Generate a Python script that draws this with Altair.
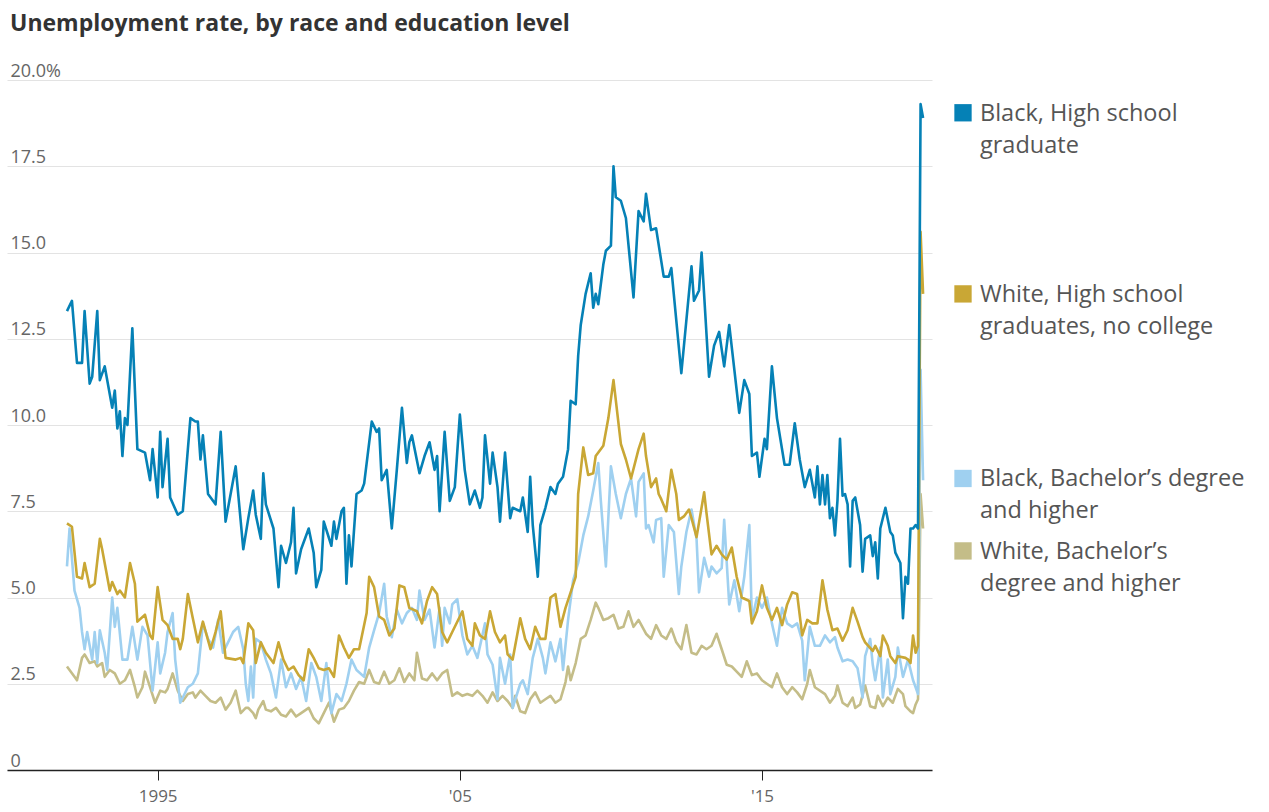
import altair as alt
import pandas as pd

# ---------------- data (% unemployment) ----------------
SERIES = [
    "Black, High school graduate",
    "White, High school graduates, no college",
    "Black, Bachelor’s degree and higher",
    "White, Bachelor’s degree and higher",
]
LEGEND_TEXT = [
    "Black, High school\ngraduate",
    "White, High school\ngraduates, no college",
    "Black, Bachelor’s degree\nand higher",
    "White, Bachelor’s\ndegree and higher",
]
COLORS = ["#0581b6", "#c9a735", "#9fd0f0", "#c4bd88"]

black_hs = [
    ("1992-01", 13.3), ("1992-03", 13.6), ("1992-05", 11.8), ("1992-07", 11.8), ("1992-08", 13.3),
    ("1992-10", 11.2), ("1992-11", 11.4), ("1993-01", 13.3), ("1993-02", 11.3), ("1993-04", 11.7),
    ("1993-07", 10.5), ("1993-08", 11.0), ("1993-09", 9.9), ("1993-10", 10.4), ("1993-11", 9.1),
    ("1993-12", 10.2), ("1994-01", 10.0), ("1994-03", 12.8), ("1994-05", 9.3), ("1994-08", 9.2),
    ("1994-10", 8.4), ("1994-11", 9.3), ("1995-01", 7.9), ("1995-02", 9.8), ("1995-03", 8.2),
    ("1995-05", 9.6), ("1995-06", 7.9), ("1995-09", 7.4), ("1995-11", 7.5), ("1996-02", 10.2),
    ("1996-04", 10.1), ("1996-05", 10.1), ("1996-06", 9.0), ("1996-07", 9.7), ("1996-09", 8.0),
    ("1996-12", 7.7), ("1997-02", 9.8), ("1997-04", 7.2), ("1997-08", 8.8), ("1997-11", 6.4),
    ("1998-01", 7.3), ("1998-03", 8.1), ("1998-04", 7.4), ("1998-06", 6.7), ("1998-07", 8.6),
    ("1998-08", 7.7), ("1998-11", 7.0), ("1999-01", 5.3), ("1999-02", 6.5), ("1999-04", 6.0),
    ("1999-06", 6.6), ("1999-07", 7.6), ("1999-08", 5.7), ("1999-10", 6.4), ("2000-01", 7.0),
    ("2000-03", 6.3), ("2000-04", 5.3), ("2000-06", 5.8), ("2000-07", 7.2), ("2000-10", 6.5),
    ("2000-11", 7.2), ("2000-12", 6.7), ("2001-02", 7.5), ("2001-03", 7.6), ("2001-04", 5.4),
    ("2001-05", 6.8), ("2001-06", 5.9), ("2001-08", 8.0), ("2001-10", 8.1), ("2001-11", 8.3),
    ("2002-02", 10.1), ("2002-04", 9.8), ("2002-05", 9.9), ("2002-06", 8.4), ("2002-08", 8.7),
    ("2002-10", 7.0), ("2002-12", 8.7), ("2003-02", 10.5), ("2003-04", 8.9), ("2003-05", 9.5),
    ("2003-06", 9.7), ("2003-09", 8.6), ("2003-11", 9.1), ("2004-01", 9.5), ("2004-03", 8.7),
    ("2004-04", 9.1), ("2004-05", 7.5), ("2004-07", 9.8), ("2004-09", 7.8), ("2004-11", 8.2),
    ("2005-01", 10.3), ("2005-03", 8.7), ("2005-05", 7.7), ("2005-07", 8.1), ("2005-09", 7.6),
    ("2005-10", 7.9), ("2005-11", 9.7), ("2006-01", 8.3), ("2006-02", 9.2), ("2006-04", 8.2),
    ("2006-05", 7.2), ("2006-07", 9.2), ("2006-09", 7.3), ("2006-10", 7.6), ("2007-01", 7.5),
    ("2007-02", 7.9), ("2007-04", 6.9), ("2007-05", 8.5), ("2007-06", 7.1), ("2007-08", 5.6),
    ("2007-09", 7.1), ("2007-11", 7.6), ("2008-01", 8.2), ("2008-03", 8.0), ("2008-04", 8.3),
    ("2008-06", 8.5), ("2008-08", 9.3), ("2008-09", 10.7), ("2008-11", 10.6), ("2008-12", 12.0),
    ("2009-01", 12.9), ("2009-03", 13.8), ("2009-05", 14.4), ("2009-06", 13.4), ("2009-07", 13.8),
    ("2009-08", 13.5), ("2009-10", 14.65), ("2009-11", 15.05), ("2010-01", 15.2), ("2010-02", 17.5),
    ("2010-03", 16.6), ("2010-05", 16.5), ("2010-07", 16.0), ("2010-10", 13.7), ("2010-12", 16.2),
    ("2011-02", 15.9), ("2011-03", 16.7), ("2011-05", 15.65), ("2011-07", 15.7), ("2011-10", 14.3),
    ("2011-12", 14.3), ("2012-01", 14.55), ("2012-05", 11.5), ("2012-09", 14.6), ("2012-10", 13.6),
    ("2012-12", 13.9), ("2013-01", 15.0), ("2013-04", 11.4), ("2013-06", 12.3), ("2013-08", 12.7),
    ("2013-10", 11.7), ("2013-12", 12.9), ("2014-02", 11.6), ("2014-04", 10.35), ("2014-06", 11.3),
    ("2014-08", 10.9), ("2014-09", 9.1), ("2014-11", 9.2), ("2014-12", 8.5), ("2015-02", 9.6),
    ("2015-03", 9.3), ("2015-05", 11.7), ("2015-07", 10.2), ("2015-10", 8.85), ("2015-12", 8.85),
    ("2016-02", 10.05), ("2016-04", 9.0), ("2016-06", 8.2), ("2016-08", 8.7), ("2016-10", 7.9),
    ("2016-11", 8.8), ("2016-12", 7.7), ("2017-01", 8.55), ("2017-02", 7.7), ("2017-03", 8.55),
    ("2017-04", 7.3), ("2017-05", 7.6), ("2017-06", 6.8), ("2017-07", 7.8), ("2017-08", 9.6),
    ("2017-09", 7.95), ("2017-10", 8.0), ("2017-11", 7.7), ("2017-12", 5.9), ("2018-01", 7.8),
    ("2018-02", 7.9), ("2018-04", 7.1), ("2018-05", 5.75), ("2018-06", 6.7), ("2018-08", 6.8),
    ("2018-09", 6.2), ("2018-10", 6.6), ("2018-11", 5.55), ("2018-12", 7.0), ("2019-02", 7.6),
    ("2019-04", 6.9), ("2019-05", 6.8), ("2019-06", 6.3), ("2019-08", 6.0), ("2019-09", 4.4),
    ("2019-10", 5.6), ("2019-11", 5.4), ("2019-12", 7.0), ("2020-01", 7.0), ("2020-02", 7.1),
    ("2020-03", 7.0), ("2020-04", 19.3), ("2020-05", 18.9),
]

white_hs = [
    ("1992-01", 7.15), ("1992-03", 7.05), ("1992-05", 5.6), ("1992-07", 5.55), ("1992-08", 6.0),
    ("1992-10", 5.3), ("1992-12", 5.4), ("1993-02", 6.7), ("1993-03", 6.4), ("1993-06", 5.2),
    ("1993-07", 5.45), ("1993-09", 5.1), ("1993-10", 5.2), ("1993-12", 5.0), ("1994-02", 6.0),
    ("1994-04", 5.4), ("1994-05", 4.3), ("1994-08", 4.5), ("1994-10", 3.9), ("1994-11", 3.8),
    ("1995-01", 5.3), ("1995-03", 4.35), ("1995-05", 4.2), ("1995-07", 3.8), ("1995-09", 3.8),
    ("1995-10", 3.5), ("1995-11", 3.8), ("1996-01", 5.1), ("1996-03", 4.4), ("1996-05", 3.7),
    ("1996-07", 4.3), ("1996-10", 3.5), ("1996-12", 4.0), ("1997-02", 4.6), ("1997-04", 3.25),
    ("1997-08", 3.2), ("1997-10", 3.25), ("1997-11", 3.1), ("1998-01", 4.25), ("1998-03", 4.05),
    ("1998-04", 3.1), ("1998-06", 3.7), ("1998-08", 3.4), ("1998-10", 3.2), ("1998-11", 3.1),
    ("1999-01", 3.7), ("1999-03", 3.2), ("1999-05", 2.9), ("1999-07", 3.0), ("1999-09", 2.75),
    ("1999-11", 2.6), ("2000-01", 3.5), ("2000-03", 3.25), ("2000-05", 2.95), ("2000-07", 2.9),
    ("2000-09", 2.95), ("2000-11", 2.7), ("2001-01", 3.9), ("2001-03", 3.55), ("2001-05", 3.25),
    ("2001-07", 3.5), ("2001-09", 3.5), ("2001-11", 4.2), ("2001-12", 4.55), ("2002-01", 5.6),
    ("2002-03", 5.3), ("2002-05", 4.45), ("2002-07", 4.35), ("2002-09", 3.9), ("2002-11", 4.1),
    ("2003-01", 5.35), ("2003-03", 5.3), ("2003-05", 4.7), ("2003-08", 4.6), ("2003-10", 4.25),
    ("2003-12", 4.9), ("2004-02", 5.3), ("2004-04", 5.1), ("2004-06", 4.0), ("2004-08", 3.7),
    ("2004-10", 4.0), ("2005-02", 4.6), ("2005-04", 3.8), ("2005-06", 3.6), ("2005-07", 4.25),
    ("2005-09", 3.9), ("2005-11", 3.8), ("2006-01", 4.6), ("2006-03", 4.0), ("2006-05", 3.7),
    ("2006-07", 3.9), ("2006-08", 3.35), ("2006-10", 3.2), ("2007-01", 4.4), ("2007-03", 3.8),
    ("2007-05", 3.5), ("2007-07", 4.15), ("2007-09", 3.8), ("2007-11", 3.8), ("2008-01", 5.0),
    ("2008-03", 5.1), ("2008-05", 4.15), ("2008-07", 4.7), ("2008-09", 5.15), ("2008-11", 5.6),
    ("2008-12", 8.0), ("2009-02", 9.35), ("2009-04", 8.55), ("2009-06", 8.6), ("2009-07", 9.1),
    ("2009-10", 9.4), ("2009-12", 10.2), ("2010-02", 11.3), ("2010-05", 9.45), ("2010-07", 9.0),
    ("2010-09", 8.45), ("2010-12", 9.3), ("2011-02", 9.75), ("2011-03", 9.1), ("2011-05", 8.2),
    ("2011-07", 8.45), ("2011-08", 8.0), ("2011-09", 7.85), ("2011-11", 7.5), ("2012-01", 8.7),
    ("2012-03", 8.0), ("2012-04", 7.25), ("2012-06", 7.35), ("2012-08", 7.55), ("2012-09", 7.3),
    ("2012-11", 6.75), ("2013-02", 8.05), ("2013-03", 7.45), ("2013-05", 6.25), ("2013-07", 6.5),
    ("2013-09", 6.25), ("2013-11", 6.1), ("2014-01", 6.45), ("2014-03", 5.6), ("2014-05", 5.0),
    ("2014-08", 4.9), ("2014-09", 4.25), ("2014-11", 4.6), ("2015-01", 5.35), ("2015-03", 4.7),
    ("2015-05", 4.35), ("2015-07", 4.7), ("2015-09", 4.2), ("2015-11", 4.8), ("2016-01", 5.15),
    ("2016-03", 5.1), ("2016-05", 3.9), ("2016-07", 4.35), ("2016-09", 4.25), ("2016-11", 4.25),
    ("2017-01", 5.5), ("2017-03", 4.65), ("2017-05", 4.05), ("2017-07", 4.1), ("2017-09", 3.75),
    ("2017-11", 4.05), ("2018-01", 4.7), ("2018-03", 4.3), ("2018-05", 3.85), ("2018-06", 3.7),
    ("2018-09", 3.45), ("2018-10", 3.6), ("2018-12", 3.3), ("2019-01", 3.9), ("2019-03", 3.6),
    ("2019-04", 3.3), ("2019-06", 3.1), ("2019-07", 3.3), ("2019-10", 3.25), ("2019-11", 3.2),
    ("2019-12", 3.1), ("2020-01", 3.9), ("2020-02", 3.4), ("2020-03", 3.6), ("2020-04", 15.6),
    ("2020-05", 13.8),
]

black_ba = [
    ("1992-01", 5.9), ("1992-02", 7.0), ("1992-04", 5.2), ("1992-06", 4.7), ("1992-07", 4.0),
    ("1992-08", 3.5), ("1992-09", 4.0), ("1992-11", 3.2), ("1992-12", 4.0), ("1993-01", 3.1),
    ("1993-02", 4.05), ("1993-04", 3.4), ("1993-05", 2.9), ("1993-07", 5.0), ("1993-08", 4.15),
    ("1993-09", 4.7), ("1993-11", 3.2), ("1994-01", 3.2), ("1994-03", 4.15), ("1994-05", 3.2),
    ("1994-07", 4.15), ("1994-09", 3.9), ("1994-11", 2.3), ("1995-01", 3.7), ("1995-02", 2.8),
    ("1995-04", 3.4), ("1995-05", 4.0), ("1995-07", 4.55), ("1995-08", 3.2), ("1995-10", 1.95),
    ("1996-01", 2.4), ("1996-03", 2.5), ("1996-05", 2.8), ("1996-07", 4.25), ("1996-09", 3.8),
    ("1996-11", 3.55), ("1997-01", 4.35), ("1997-03", 3.4), ("1997-05", 3.7), ("1997-07", 4.0),
    ("1997-09", 4.15), ("1997-11", 3.5), ("1997-12", 2.5), ("1998-01", 2.0), ("1998-02", 3.0),
    ("1998-03", 2.1), ("1998-04", 3.8), ("1998-06", 3.7), ("1998-08", 3.2), ("1998-10", 2.8),
    ("1998-12", 2.1), ("1999-02", 3.2), ("1999-04", 2.4), ("1999-06", 2.8), ("1999-08", 2.35),
    ("1999-10", 2.7), ("1999-12", 2.0), ("2000-02", 3.1), ("2000-04", 2.7), ("2000-06", 2.0),
    ("2000-08", 3.1), ("2000-10", 1.65), ("2000-12", 2.2), ("2001-02", 2.0), ("2001-04", 2.5),
    ("2001-06", 3.2), ("2001-08", 2.9), ("2001-11", 2.7), ("2002-01", 3.55), ("2002-03", 4.05),
    ("2002-05", 4.55), ("2002-07", 5.4), ("2002-08", 4.45), ("2002-10", 3.85), ("2002-12", 4.65),
    ("2003-02", 4.25), ("2003-04", 4.55), ("2003-06", 4.7), ("2003-08", 4.35), ("2003-09", 5.2),
    ("2003-11", 4.35), ("2004-01", 4.65), ("2004-03", 3.55), ("2004-05", 4.7), ("2004-06", 3.6),
    ("2004-07", 4.7), ("2004-09", 4.25), ("2004-10", 4.8), ("2004-12", 4.95), ("2005-02", 3.9),
    ("2005-04", 3.35), ("2005-06", 3.6), ("2005-08", 3.25), ("2005-11", 4.25), ("2005-12", 3.35),
    ("2006-02", 3.05), ("2006-04", 2.05), ("2006-05", 3.25), ("2006-07", 2.5), ("2006-09", 3.35),
    ("2006-10", 1.8), ("2007-01", 2.5), ("2007-02", 2.6), ("2007-04", 2.2), ("2007-06", 3.25),
    ("2007-08", 3.8), ("2007-10", 3.25), ("2007-11", 2.8), ("2008-01", 3.7), ("2008-03", 3.15),
    ("2008-05", 3.8), ("2008-06", 2.9), ("2008-08", 4.35), ("2008-10", 5.5), ("2008-12", 6.0),
    ("2009-02", 6.8), ("2009-04", 7.35), ("2009-06", 8.1), ("2009-08", 8.9), ("2009-09", 7.8),
    ("2009-11", 5.9), ("2010-01", 8.8), ("2010-03", 8.0), ("2010-05", 7.3), ("2010-07", 8.0),
    ("2010-09", 8.45), ("2010-11", 7.35), ("2010-12", 8.35), ("2011-02", 8.6), ("2011-03", 7.0),
    ("2011-04", 7.1), ("2011-06", 6.6), ("2011-07", 7.25), ("2011-09", 7.3), ("2011-10", 5.6),
    ("2011-12", 7.1), ("2012-02", 6.9), ("2012-04", 5.1), ("2012-05", 5.9), ("2012-07", 6.9),
    ("2012-09", 7.55), ("2012-11", 6.7), ("2012-12", 5.15), ("2013-02", 6.15), ("2013-04", 5.6),
    ("2013-05", 5.9), ("2013-07", 5.7), ("2013-09", 5.85), ("2013-10", 7.25), ("2013-12", 4.8),
    ("2014-02", 5.5), ("2014-04", 4.6), ("2014-06", 5.6), ("2014-08", 7.1), ("2014-09", 4.35),
    ("2014-11", 5.0), ("2015-01", 4.7), ("2015-03", 5.0), ("2015-05", 4.25), ("2015-07", 3.6),
    ("2015-09", 4.7), ("2015-11", 4.25), ("2016-01", 4.15), ("2016-03", 4.25), ("2016-05", 3.75),
    ("2016-06", 2.6), ("2016-08", 4.15), ("2016-10", 3.6), ("2016-12", 3.6), ("2017-02", 3.9),
    ("2017-04", 3.7), ("2017-06", 3.85), ("2017-07", 3.55), ("2017-09", 3.15), ("2017-11", 3.2),
    ("2018-01", 3.15), ("2018-03", 2.95), ("2018-05", 2.1), ("2018-06", 3.3), ("2018-08", 3.8),
    ("2018-09", 3.05), ("2018-10", 2.6), ("2018-12", 3.55), ("2019-01", 2.1), ("2019-03", 3.2),
    ("2019-04", 2.2), ("2019-06", 2.7), ("2019-07", 3.55), ("2019-09", 2.7), ("2019-11", 3.2),
    ("2020-01", 2.6), ("2020-02", 2.4), ("2020-03", 2.2), ("2020-04", 11.6), ("2020-05", 8.4),
]

white_ba = [
    ("1992-01", 3.0), ("1992-04", 2.7), ("1992-05", 2.6), ("1992-07", 3.25), ("1992-08", 3.35),
    ("1992-10", 3.1), ("1992-12", 3.15), ("1993-01", 3.0), ("1993-03", 3.1), ("1993-04", 2.7),
    ("1993-06", 2.9), ("1993-08", 2.8), ("1993-10", 2.5), ("1993-12", 2.6), ("1994-02", 2.9),
    ("1994-04", 2.4), ("1994-05", 2.1), ("1994-07", 2.4), ("1994-08", 2.85), ("1994-10", 2.4),
    ("1994-12", 1.95), ("1995-02", 2.3), ("1995-04", 2.25), ("1995-05", 2.35), ("1995-07", 2.8),
    ("1995-09", 2.3), ("1995-11", 2.0), ("1996-01", 2.2), ("1996-03", 2.25), ("1996-04", 2.1),
    ("1996-06", 2.3), ("1996-08", 2.15), ("1996-10", 2.0), ("1996-12", 1.95), ("1997-02", 2.1),
    ("1997-04", 1.75), ("1997-06", 1.95), ("1997-08", 2.3), ("1997-10", 1.65), ("1997-12", 1.8),
    ("1998-01", 1.8), ("1998-03", 1.65), ("1998-04", 1.5), ("1998-05", 1.75), ("1998-07", 2.0),
    ("1998-08", 1.75), ("1998-10", 1.7), ("1998-12", 1.8), ("1999-02", 1.6), ("1999-04", 1.55),
    ("1999-06", 1.75), ("1999-08", 1.55), ("1999-10", 1.65), ("2000-01", 1.8), ("2000-03", 1.5),
    ("2000-05", 1.35), ("2000-07", 1.65), ("2000-09", 1.95), ("2000-11", 1.4), ("2001-01", 1.75),
    ("2001-03", 1.8), ("2001-05", 2.0), ("2001-07", 2.3), ("2001-09", 2.55), ("2001-11", 2.5),
    ("2002-01", 2.9), ("2002-03", 2.55), ("2002-05", 2.5), ("2002-07", 2.85), ("2002-09", 2.5),
    ("2002-11", 2.6), ("2003-01", 2.95), ("2003-03", 2.55), ("2003-05", 2.8), ("2003-07", 2.6),
    ("2003-08", 3.4), ("2003-10", 2.65), ("2003-12", 2.6), ("2004-02", 2.8), ("2004-04", 2.6),
    ("2004-06", 2.8), ("2004-08", 2.9), ("2004-10", 2.15), ("2004-12", 2.25), ("2005-02", 2.15),
    ("2005-04", 2.2), ("2005-06", 2.15), ("2005-08", 2.3), ("2005-10", 2.15), ("2005-12", 1.95),
    ("2006-02", 2.25), ("2006-04", 2.0), ("2006-06", 2.15), ("2006-08", 2.0), ("2006-10", 1.8),
    ("2006-11", 2.15), ("2007-01", 1.7), ("2007-03", 1.65), ("2007-05", 2.05), ("2007-07", 2.25),
    ("2007-09", 1.95), ("2007-11", 2.05), ("2008-01", 2.15), ("2008-03", 1.95), ("2008-05", 2.05),
    ("2008-07", 2.55), ("2008-08", 3.0), ("2008-09", 2.6), ("2008-11", 3.1), ("2009-01", 3.8),
    ("2009-03", 3.9), ("2009-05", 4.35), ("2009-07", 4.85), ("2009-08", 4.7), ("2009-10", 4.35),
    ("2009-12", 4.4), ("2010-02", 4.5), ("2010-04", 4.1), ("2010-06", 4.15), ("2010-08", 4.6),
    ("2010-10", 4.15), ("2010-12", 4.35), ("2011-03", 3.95), ("2011-05", 3.8), ("2011-07", 4.2),
    ("2011-09", 3.9), ("2011-11", 3.8), ("2012-01", 4.1), ("2012-03", 3.7), ("2012-05", 3.5),
    ("2012-07", 4.2), ("2012-09", 3.4), ("2012-11", 3.35), ("2013-01", 3.6), ("2013-03", 3.5),
    ("2013-05", 3.6), ("2013-07", 3.95), ("2013-09", 3.5), ("2013-11", 3.05), ("2014-01", 3.0),
    ("2014-03", 2.85), ("2014-05", 2.7), ("2014-07", 3.15), ("2014-09", 2.75), ("2014-11", 2.8),
    ("2015-01", 2.6), ("2015-03", 2.5), ("2015-05", 2.4), ("2015-07", 2.8), ("2015-09", 2.4),
    ("2015-11", 2.2), ("2016-01", 2.4), ("2016-03", 2.25), ("2016-05", 2.05), ("2016-07", 2.5),
    ("2016-08", 2.9), ("2016-10", 2.4), ("2017-01", 2.25), ("2017-02", 2.2), ("2017-04", 1.95),
    ("2017-06", 2.15), ("2017-07", 2.45), ("2017-09", 1.95), ("2017-11", 1.85), ("2018-01", 2.1),
    ("2018-02", 1.8), ("2018-04", 1.9), ("2018-06", 2.45), ("2018-08", 1.85), ("2018-10", 1.8),
    ("2018-11", 2.15), ("2019-01", 1.85), ("2019-03", 2.1), ("2019-05", 1.95), ("2019-07", 2.35),
    ("2019-09", 2.2), ("2019-10", 1.85), ("2019-12", 1.7), ("2020-01", 1.65), ("2020-02", 1.9),
    ("2020-03", 2.05), ("2020-04", 8.0), ("2020-05", 7.0),
]

Y_TICKS = [0, 2.5, 5, 7.5, 10, 12.5, 15, 17.5, 20]
X_TICK_YEARS = [1995, 2005, 2015]

# ---------------- assemble ----------------
series_data = [black_hs, white_hs, black_ba, white_ba]
draw_order = [3, 2, 1, 0]  # light series underneath, dark blue on top
frames = []
for i in draw_order:
    frames.append(pd.DataFrame({
        "date": [m + "-01" for m, _ in series_data[i]],
        "rate": [v for _, v in series_data[i]],
        "series": SERIES[i],
        "order": i,
    }))
df = pd.concat(frames, ignore_index=True)

# legend anchored on each series' last value, nudged apart (in % units)
legend_nudge = [0.15, 0.0, 0.05, -0.65]
legend_df = pd.DataFrame({
    "series": SERIES,
    "label": LEGEND_TEXT,
    "anchor": [series_data[i][-1][1] + legend_nudge[i] for i in range(4)],
})

FONT = "Open Sans"
color_scale = alt.Scale(domain=SERIES, range=COLORS)
y_scale = alt.Scale(domain=[0, 20], nice=False, zero=True)
x_scale = alt.Scale(domain=[alt.DateTime(year=1990, month=1, date=6),
                            alt.DateTime(year=2020, month=8, date=17)])

lines = alt.Chart(df).mark_line(strokeWidth=2.6, strokeJoin="round").encode(
    x=alt.X("date:T", scale=x_scale, title=None,
            axis=alt.Axis(values=[alt.DateTime(year=y, month=1, date=1) for y in X_TICK_YEARS],
                          labelExpr="year(datum.value) == 1995 ? '1995' : \"'\" + timeFormat(datum.value, '%y')",
                          grid=False, domainColor="#222", domainWidth=1.5,
                          tickColor="#222", tickSize=10, tickWidth=1,
                          labelColor="#666", labelFontSize=17, labelFont=FONT,
                          labelPadding=8, labelFlush=False)),
    y=alt.Y("rate:Q", scale=y_scale, title=None,
            axis=alt.Axis(values=Y_TICKS,
                          labelExpr="datum.value == 20 ? '20.0%' : (datum.value == 0 ? '0' : format(datum.value, '.1f'))",
                          orient="left", domain=False, ticks=False, tickSize=0,
                          grid=True, gridColor="#e3e3e3", gridWidth=1.2,
                          labelAlign="left", labelBaseline="alphabetic",
                          labelPadding=-3, labelOffset=-4,
                          labelColor="#666", labelFontSize=18, labelFont=FONT,
                          labelFlush=False)),
    color=alt.Color("series:N", scale=color_scale, legend=None),
    detail="order:N",
)

squares = alt.Chart(legend_df).mark_square(size=300, opacity=1).encode(
    x=alt.value(956),
    y=alt.Y("anchor:Q", scale=y_scale),
    color=alt.Color("series:N", scale=color_scale, legend=None),
)

labels = alt.Chart(legend_df).mark_text(
    align="left", baseline="alphabetic", dy=8, fontSize=23.5, font=FONT,
    color="#555", lineBreak="\n", lineHeight=32,
).encode(
    x=alt.value(973),
    y=alt.Y("anchor:Q", scale=y_scale),
    text="label:N",
)

chart = alt.layer(lines, squares, labels).properties(
    width=925,
    height=690,
    autosize=alt.AutoSizeParams(type="none"),
    padding={"left": 7, "top": 80, "right": 337, "bottom": 42},
    title=alt.TitleParams(
        "Unemployment rate, by race and education level",
        anchor="start", font=FONT, fontSize=23, fontWeight="bold",
        color="#333", dx=3, offset=26,
    ),
).configure(background="white").configure_view(stroke=None)

chart.save("out.html", embed_options={"renderer": "svg", "actions": False})
